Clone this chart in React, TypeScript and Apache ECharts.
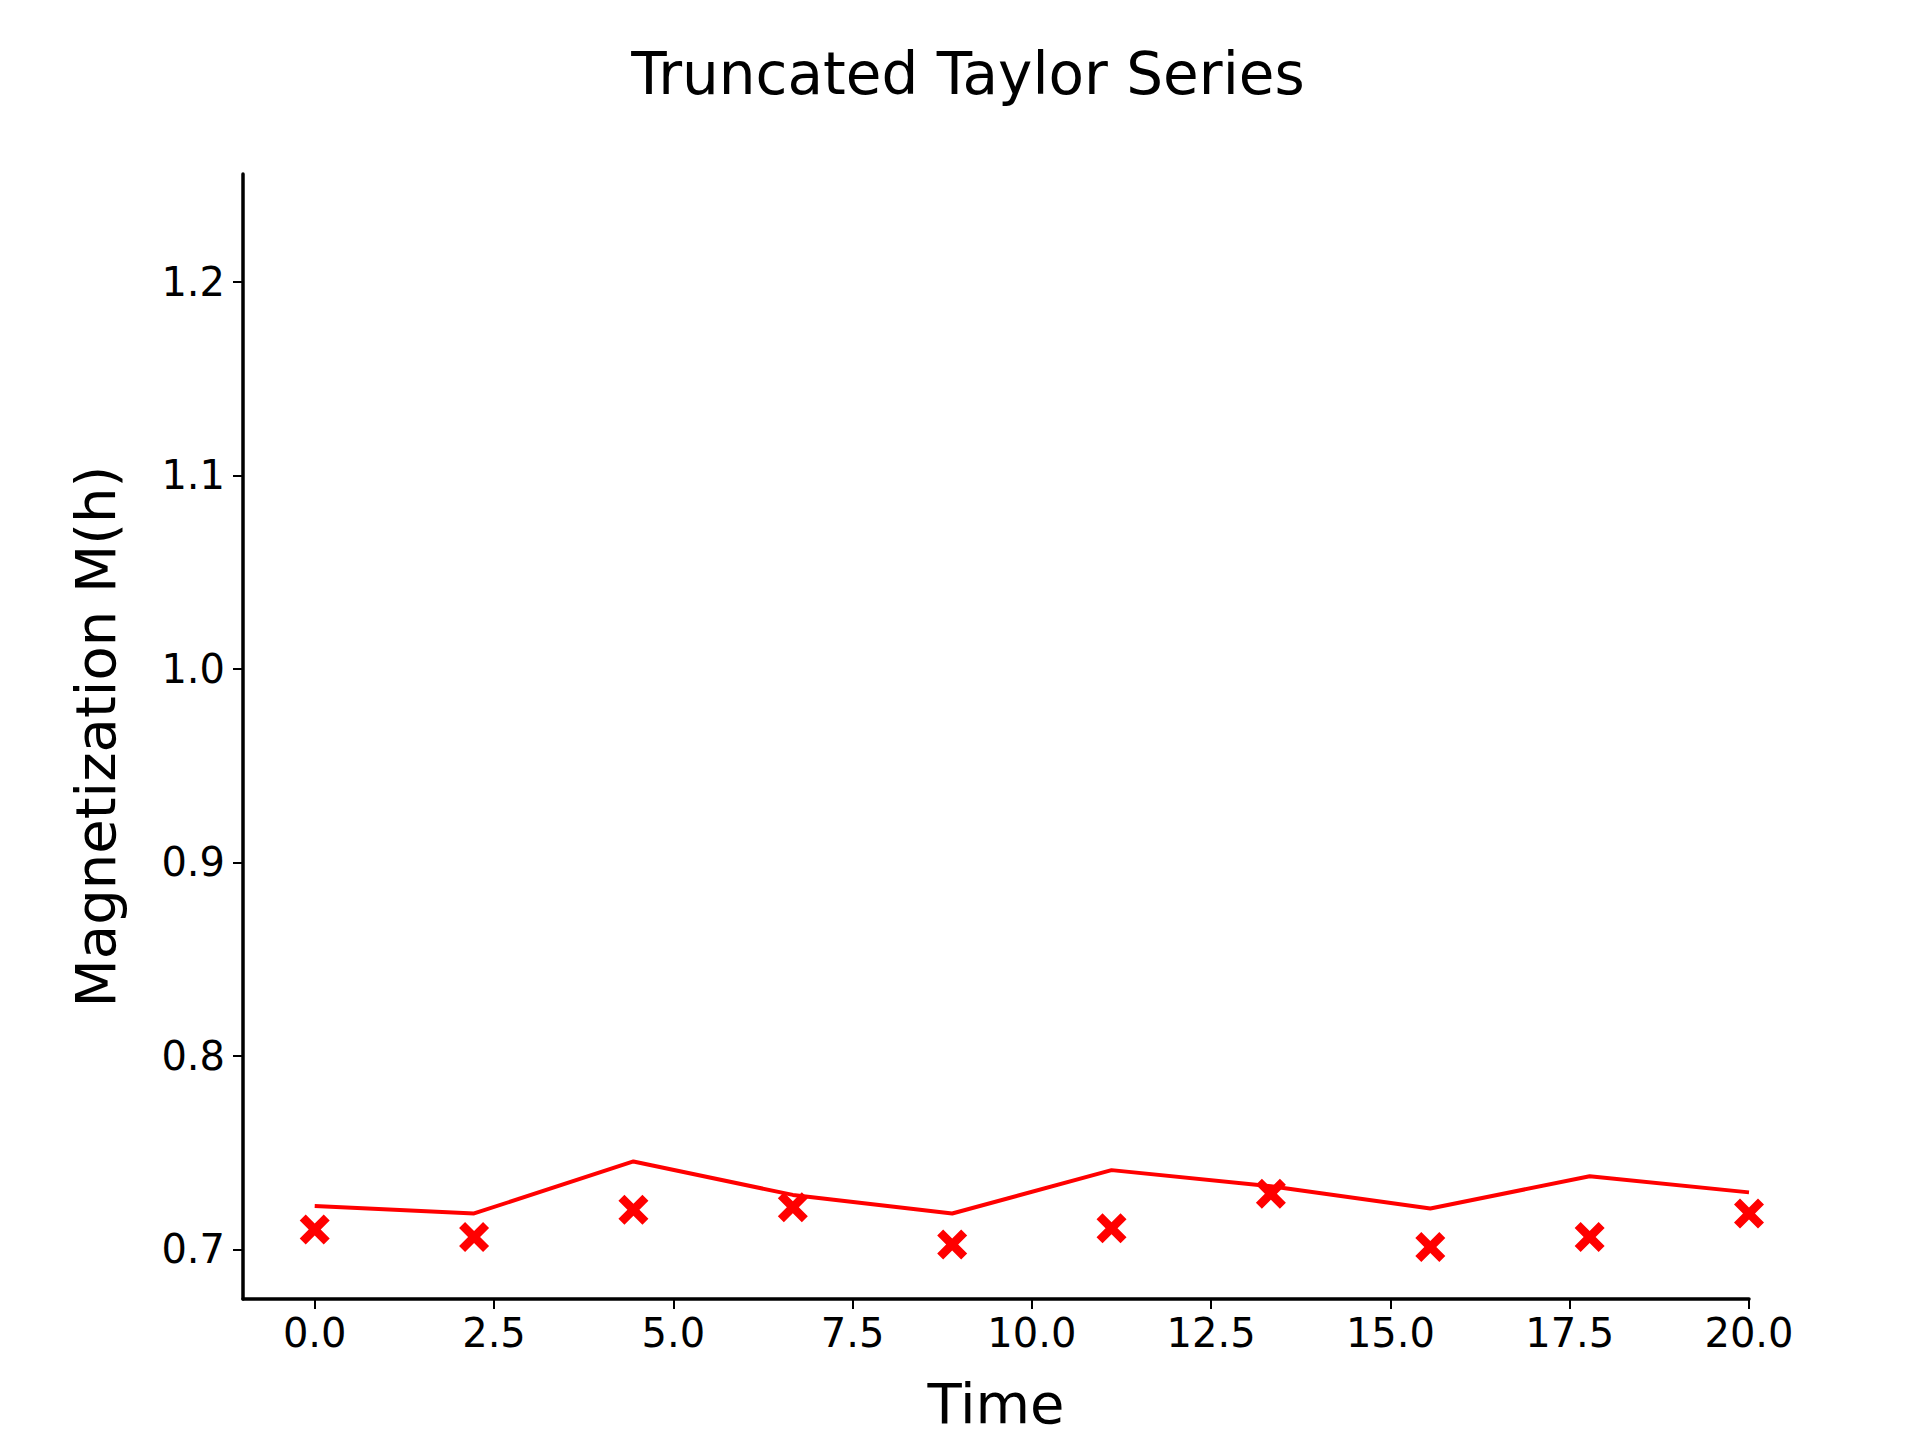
import React, { useEffect, useRef } from "react";
import * as echarts from "echarts";

const timeValues = [0, 2.222, 4.444, 6.667, 8.889, 11.111, 13.333, 15.556, 17.778, 20];
const taylorLine = [0.7224, 0.7186, 0.7455, 0.7282, 0.7186, 0.741, 0.7327, 0.7212, 0.7378, 0.7295];
const observed = [0.7103, 0.7064, 0.7205, 0.7218, 0.7026, 0.7109, 0.7288, 0.7013, 0.7064, 0.7186];
const xTicks = [0, 2.5, 5, 7.5, 10, 12.5, 15, 17.5, 20];
const yTicks = [0.7, 0.8, 0.9, 1.0, 1.1, 1.2];

const xMarker =
  "path://M2,0 L5,3 L8,0 L10,2 L7,5 L10,8 L8,10 L5,7 L2,10 L0,8 L3,5 L0,2 Z";

const FONT = "DejaVu Sans";

const App = () => {
  const ref = useRef<HTMLDivElement>(null);

  useEffect(() => {
    if (!ref.current) return;
    const chart = echarts.init(ref.current, null, { renderer: "svg" });
    chart.setOption({
      animation: false,
      backgroundColor: "#ffffff",
      title: {
        text: "Truncated Taylor Series",
        left: "center",
        top: 32,
        textStyle: { fontFamily: FONT, fontSize: 58, fontWeight: "normal", color: "#000" },
      },
      grid: { left: 235, right: 179, top: 166, bottom: 149 },
      xAxis: {
        type: "value",
        min: -1,
        max: 20,
        name: "Time",
        nameLocation: "middle",
        nameGap: 76,
        nameTextStyle: { fontFamily: FONT, fontSize: 56, color: "#000" },
        axisLine: { onZero: false, lineStyle: { color: "#000", width: 3.5 } },
        axisTick: { length: 10, lineStyle: { color: "#000", width: 2 }, customValues: xTicks },
        axisLabel: {
          fontFamily: FONT, fontSize: 40, color: "#000", margin: 14,
          customValues: xTicks,
          formatter: (v: number) => v.toFixed(1),
        },
        splitLine: { show: false },
      },
      yAxis: {
        type: "value",
        min: 0.6744,
        max: 1.2558,
        name: "Magnetization M(h)",
        nameLocation: "middle",
        nameGap: 120,
        nameTextStyle: { fontFamily: FONT, fontSize: 56, color: "#000" },
        axisLine: { show: true, onZero: false, lineStyle: { color: "#000", width: 3.5 } },
        axisTick: { show: true, length: 10, lineStyle: { color: "#000", width: 2 }, customValues: yTicks },
        axisLabel: {
          fontFamily: FONT, fontSize: 40, color: "#000", margin: 18,
          customValues: yTicks,
          formatter: (v: number) => v.toFixed(1),
        },
        splitLine: { show: false },
      },
      series: [
        {
          type: "line",
          data: timeValues.map((t, i) => [t, taylorLine[i]]),
          showSymbol: false,
          lineStyle: { color: "#ff0000", width: 4 },
          z: 2,
        },
        {
          type: "scatter",
          data: timeValues.map((t, i) => [t, observed[i]]),
          symbol: xMarker,
          symbolSize: 30,
          itemStyle: { color: "#ff0000", opacity: 1 },
          clip: true,
          z: 3,
        },
      ],
    });
    return () => chart.dispose();
  }, []);

  return <div ref={ref} style={{ width: 1920, height: 1440 }} />;
};

export default App;
